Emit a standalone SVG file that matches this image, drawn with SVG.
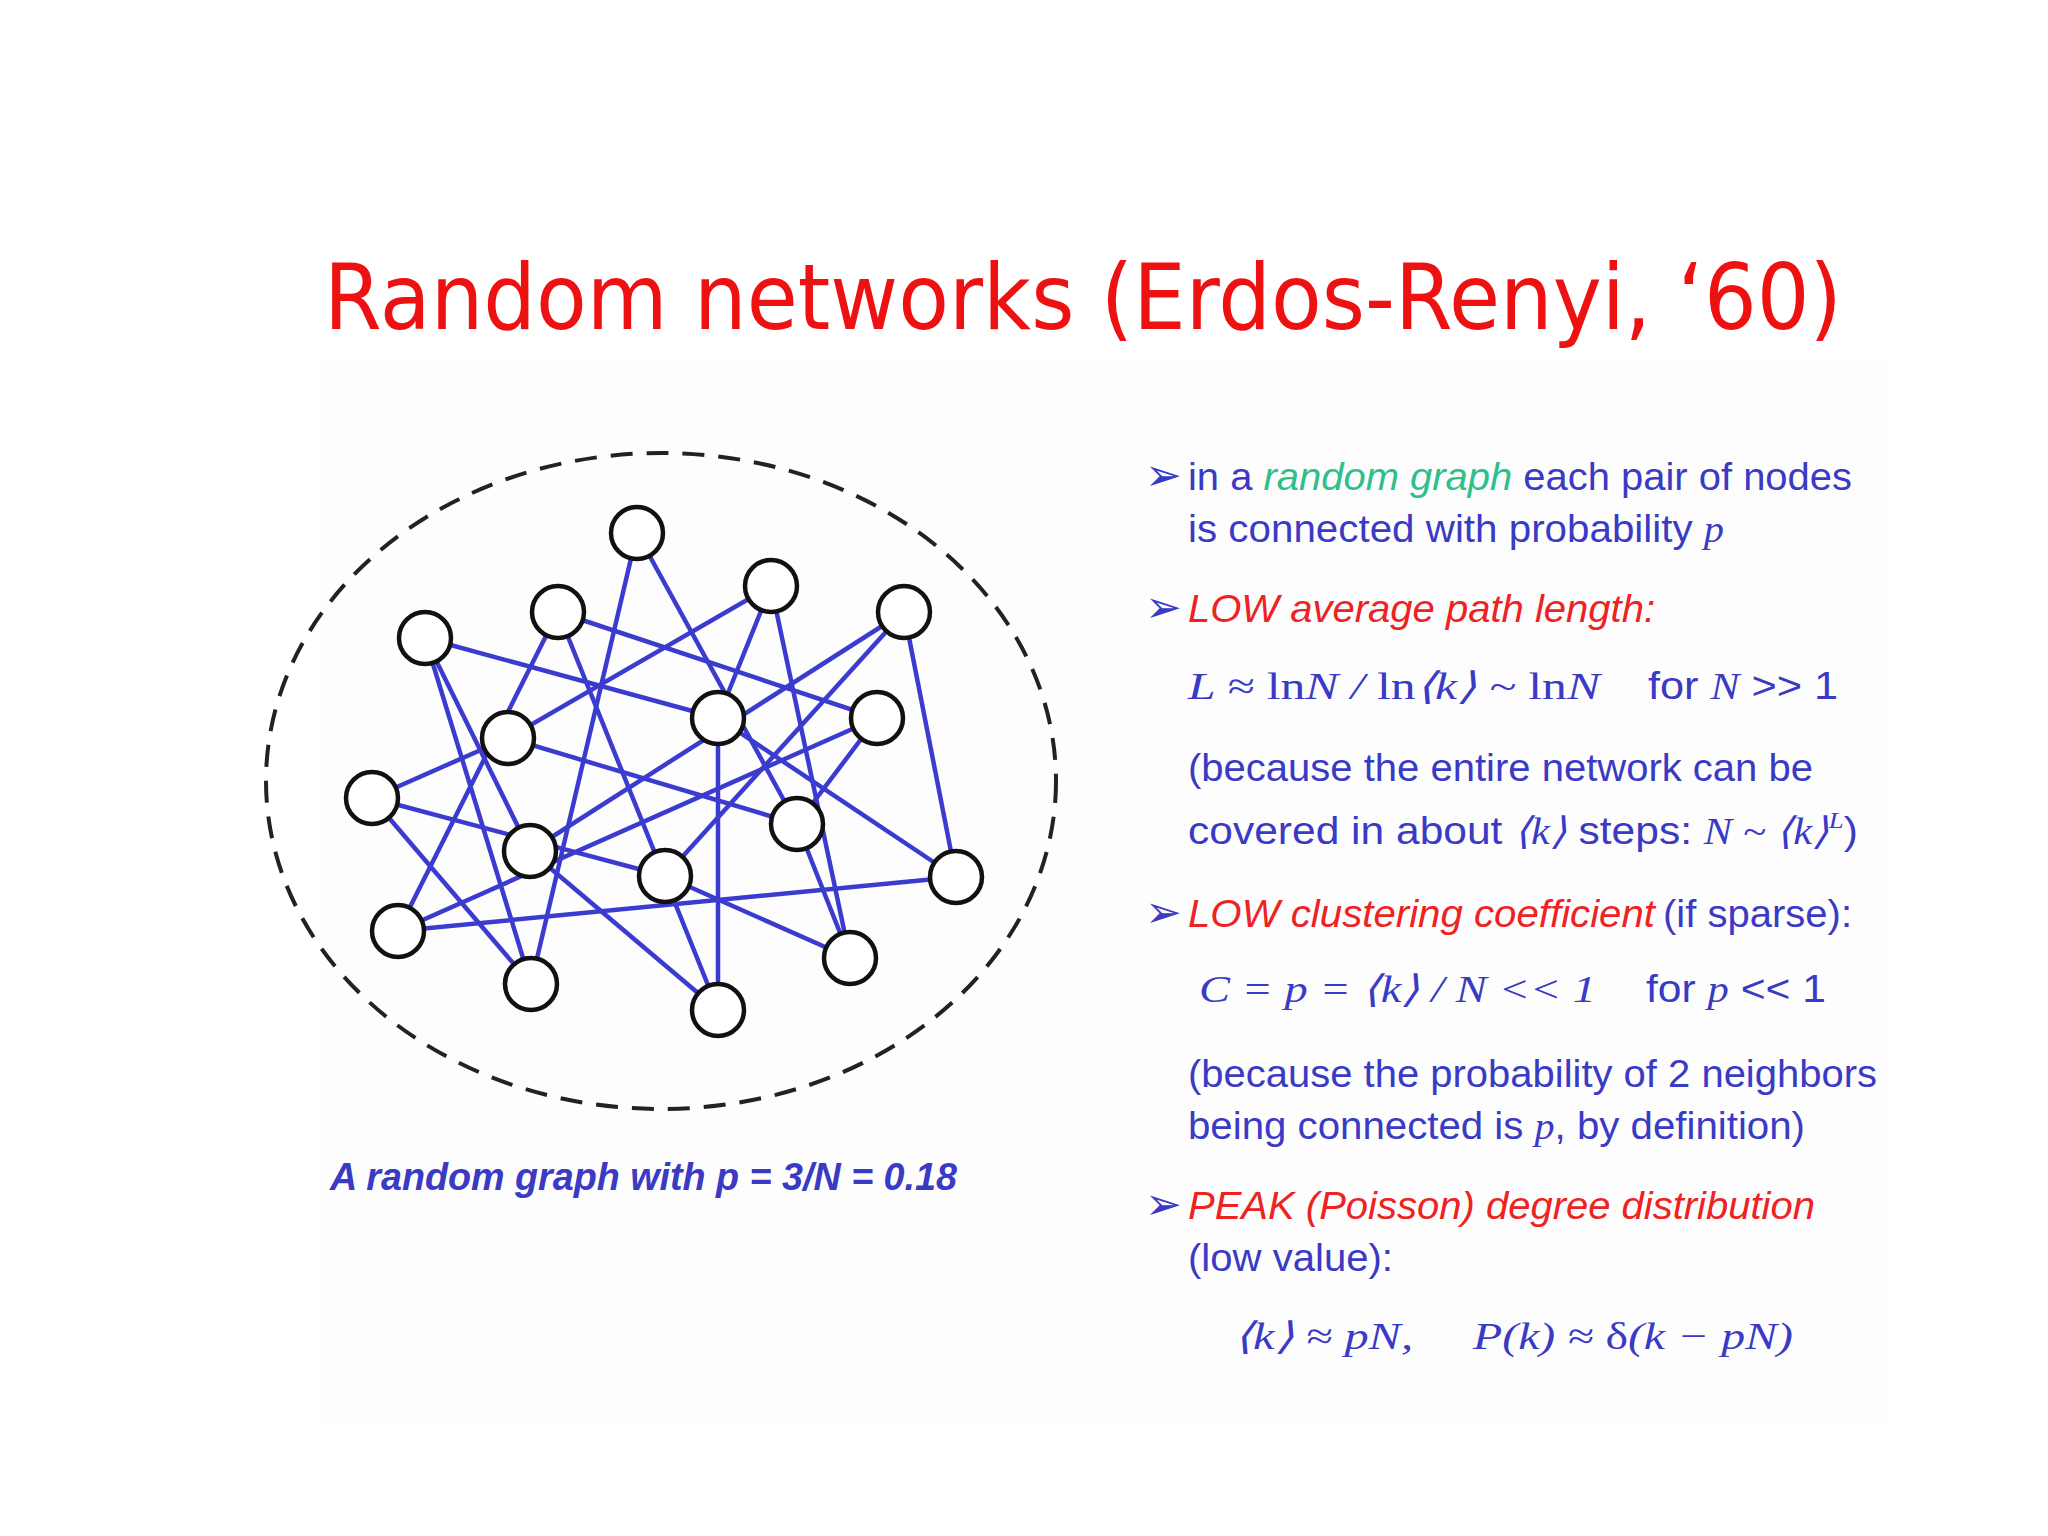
<svg xmlns="http://www.w3.org/2000/svg" width="2048" height="1536" viewBox="0 0 2048 1536">
<style>
.e{stroke:#3b3bcf;stroke-width:4.5;fill:none}
.n{fill:#fff;stroke:#111;stroke-width:4.5}
.t{font-family:"Liberation Sans",Arial,sans-serif;font-size:38px;fill:#3a3ac4}
.r{fill:#ee2222;font-style:italic}
.m{font-family:"Liberation Serif","Times New Roman",serif;font-style:italic}
.b{font-family:"DejaVu Sans",sans-serif;font-size:44px;font-weight:bold}
</style>
<rect width="2048" height="1536" fill="#fff"/>
<rect x="320" y="360" width="1570" height="1065" fill="#fdfdfd"/>
<text x="324" y="329" font-family="'DejaVu Sans',sans-serif" font-size="90" fill="#ee1111" textLength="1518" lengthAdjust="spacingAndGlyphs">Random networks (Erdos-Renyi, ‘60)</text>
<ellipse cx="661" cy="781" rx="395" ry="328" fill="none" stroke="#222" stroke-width="4" stroke-dasharray="22,14"/>
<g id="edges">
<line class="e" x1="637" y1="533" x2="531" y2="984"/>
<line class="e" x1="637" y1="533" x2="797" y2="824"/>
<line class="e" x1="558" y1="612" x2="877" y2="718"/>
<line class="e" x1="558" y1="612" x2="718" y2="1010"/>
<line class="e" x1="558" y1="612" x2="398" y2="931"/>
<line class="e" x1="425" y1="638" x2="718" y2="718"/>
<line class="e" x1="425" y1="638" x2="531" y2="984"/>
<line class="e" x1="425" y1="638" x2="530" y2="851"/>
<line class="e" x1="372" y1="798" x2="508" y2="738"/>
<line class="e" x1="372" y1="798" x2="531" y2="984"/>
<line class="e" x1="372" y1="798" x2="665" y2="876"/>
<line class="e" x1="508" y1="738" x2="771" y2="586"/>
<line class="e" x1="508" y1="738" x2="797" y2="824"/>
<line class="e" x1="771" y1="586" x2="718" y2="718"/>
<line class="e" x1="771" y1="586" x2="850" y2="958"/>
<line class="e" x1="718" y1="718" x2="718" y2="1010"/>
<line class="e" x1="718" y1="718" x2="956" y2="877"/>
<line class="e" x1="904" y1="612" x2="530" y2="851"/>
<line class="e" x1="904" y1="612" x2="665" y2="876"/>
<line class="e" x1="904" y1="612" x2="956" y2="877"/>
<line class="e" x1="877" y1="718" x2="398" y2="931"/>
<line class="e" x1="797" y1="824" x2="877" y2="718"/>
<line class="e" x1="797" y1="824" x2="850" y2="958"/>
<line class="e" x1="530" y1="851" x2="718" y2="1010"/>
<line class="e" x1="665" y1="876" x2="850" y2="958"/>
<line class="e" x1="398" y1="931" x2="956" y2="877"/>
</g>
<g id="nA"><circle class="n" cx="637" cy="533" r="26"/></g>
<g id="nB"><circle class="n" cx="771" cy="586" r="26"/></g>
<g id="nC"><circle class="n" cx="558" cy="612" r="26"/></g>
<g id="nD"><circle class="n" cx="425" cy="638" r="26"/></g>
<g id="nE"><circle class="n" cx="904" cy="612" r="26"/></g>
<g id="nF"><circle class="n" cx="718" cy="718" r="26"/></g>
<g id="nG"><circle class="n" cx="877" cy="718" r="26"/></g>
<g id="nH"><circle class="n" cx="508" cy="738" r="26"/></g>
<g id="nI"><circle class="n" cx="372" cy="798" r="26"/></g>
<g id="nJ"><circle class="n" cx="797" cy="824" r="26"/></g>
<g id="nK"><circle class="n" cx="530" cy="851" r="26"/></g>
<g id="nL"><circle class="n" cx="665" cy="876" r="26"/></g>
<g id="nM"><circle class="n" cx="956" cy="877" r="26"/></g>
<g id="nN"><circle class="n" cx="398" cy="931" r="26"/></g>
<g id="nO"><circle class="n" cx="850" cy="958" r="26"/></g>
<g id="nP"><circle class="n" cx="531" cy="984" r="26"/></g>
<g id="nQ"><circle class="n" cx="718" cy="1010" r="26"/></g>
<text class="t" x="330" y="1190" font-style="italic" font-weight="bold" textLength="627" lengthAdjust="spacingAndGlyphs">A random graph with p = 3/N = 0.18</text>
<g id="text">
<text class="t b" x="1145" y="490">➢</text>
<text class="t" x="1188" y="490" textLength="664" lengthAdjust="spacingAndGlyphs">in a <tspan fill="#2fbf8a" font-style="italic">random graph</tspan> each pair of nodes</text>
<text class="t" x="1188" y="542" textLength="536" lengthAdjust="spacingAndGlyphs">is connected with probability <tspan class="m">p</tspan></text>
<text class="t b" x="1145" y="622" fill="#ee2222">➢</text>
<text class="t r" x="1188" y="622" textLength="467" lengthAdjust="spacingAndGlyphs">LOW average path length:</text>
<text class="t m" x="1188" y="699" textLength="412" lengthAdjust="spacingAndGlyphs">L ≈ <tspan font-style="normal">ln</tspan>N / <tspan font-style="normal">ln</tspan>⟨k⟩ ~ <tspan font-style="normal">ln</tspan>N</text>
<text class="t" x="1648" y="699" textLength="190" lengthAdjust="spacingAndGlyphs">for <tspan class="m">N</tspan> &gt;&gt; 1</text>
<text class="t" x="1188" y="781" textLength="625" lengthAdjust="spacingAndGlyphs">(because the entire network can be</text>
<text class="t" x="1188" y="844" textLength="670" lengthAdjust="spacingAndGlyphs">covered in about <tspan class="m">⟨k⟩</tspan> steps: <tspan class="m">N ~ ⟨k⟩</tspan><tspan class="m" font-size="24" dy="-16">L</tspan><tspan dy="16">)</tspan></text>
<text class="t b" x="1145" y="927" fill="#ee2222">➢</text>
<text class="t r" x="1188" y="927" textLength="467" lengthAdjust="spacingAndGlyphs">LOW clustering coefficient</text>
<text class="t" x="1663" y="927" textLength="189" lengthAdjust="spacingAndGlyphs">(if sparse):</text>
<text class="t m" x="1199" y="1002" textLength="397" lengthAdjust="spacingAndGlyphs">C = p = ⟨k⟩ / N &lt;&lt; 1</text>
<text class="t" x="1646" y="1002" textLength="180" lengthAdjust="spacingAndGlyphs">for <tspan class="m">p</tspan> &lt;&lt; 1</text>
<text class="t" x="1188" y="1087" textLength="689" lengthAdjust="spacingAndGlyphs">(because the probability of 2 neighbors</text>
<text class="t" x="1188" y="1139" textLength="617" lengthAdjust="spacingAndGlyphs">being connected is <tspan class="m">p</tspan>, by definition)</text>
<text class="t b" x="1145" y="1219" fill="#ee2222">➢</text>
<text class="t r" x="1188" y="1219" textLength="627" lengthAdjust="spacingAndGlyphs">PEAK (Poisson) degree distribution</text>
<text class="t" x="1188" y="1271" textLength="205" lengthAdjust="spacingAndGlyphs">(low value):</text>
<text class="t m" x="1234" y="1349" textLength="179" lengthAdjust="spacingAndGlyphs">⟨k⟩ ≈ pN,</text>
<text class="t m" x="1473" y="1349" textLength="320" lengthAdjust="spacingAndGlyphs">P(k) ≈ <tspan font-style="normal">δ</tspan>(k − pN)</text>
</g>
</svg>
